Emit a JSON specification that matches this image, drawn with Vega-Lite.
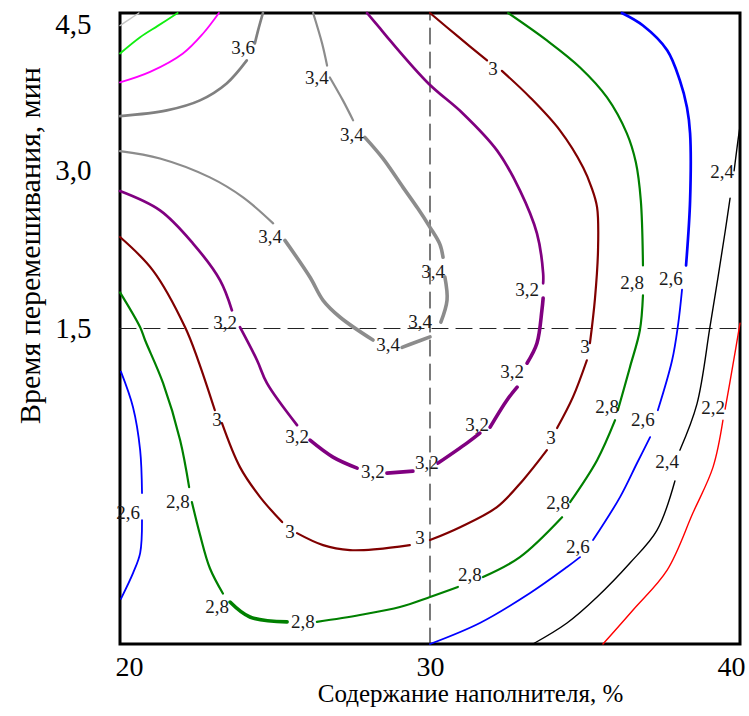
{
  "$schema": "https://vega.github.io/schema/vega-lite/v6.json",
  "width": 620,
  "height": 631,
  "autosize": {"type": "none"},
  "padding": {"left": 120, "top": 13, "right": 9, "bottom": 72},
  "background": "white",
  "config": {
    "view": {"stroke": "black", "strokeWidth": 3},
    "axis": {
      "domain": false,
      "ticks": false,
      "grid": false,
      "labelFont": "Liberation Serif",
      "titleFont": "Liberation Serif",
      "labelColor": "black",
      "titleColor": "black",
      "titleFontWeight": "normal"
    },
    "line": {"interpolate": "catmull-rom", "clip": true, "strokeCap": "round", "strokeJoin": "round"}
  },
  "datasets": {
    "guides": [
      {"g": "v", "x": 30, "y": -1.5}, {"g": "v", "x": 30, "y": 4.5},
      {"g": "h", "x": 20, "y": 1.5}, {"g": "h", "x": 40, "y": 1.5}
    ],
    "curves": [
      {"level": "4.2", "seg": "42a", "x": 20.0, "y": 4.38}, {"level": "4.2", "seg": "42a", "x": 20.3, "y": 4.44}, {"level": "4.2", "seg": "42a", "x": 20.61, "y": 4.5},

      {"level": "4.0", "seg": "40a", "x": 20.0, "y": 4.115}, {"level": "4.0", "seg": "40a", "x": 20.65, "y": 4.27}, {"level": "4.0", "seg": "40a", "x": 21.23, "y": 4.38}, {"level": "4.0", "seg": "40a", "x": 21.86, "y": 4.5},

      {"level": "3.8", "seg": "38a", "x": 20.0, "y": 3.84}, {"level": "3.8", "seg": "38a", "x": 20.97, "y": 3.94}, {"level": "3.8", "seg": "38a", "x": 22.03, "y": 4.115}, {"level": "3.8", "seg": "38a", "x": 22.68, "y": 4.305}, {"level": "3.8", "seg": "38a", "x": 23.19, "y": 4.5},

      {"level": "3.6", "seg": "36a", "x": 20.0, "y": 3.52}, {"level": "3.6", "seg": "36a", "x": 21.51, "y": 3.574}, {"level": "3.6", "seg": "36a", "x": 22.58, "y": 3.669}, {"level": "3.6", "seg": "36a", "x": 23.44, "y": 3.83}, {"level": "3.6", "seg": "36a", "x": 24.09, "y": 4.049},
      {"level": "3.6", "seg": "36b", "x": 24.35, "y": 4.21}, {"level": "3.6", "seg": "36b", "x": 24.45, "y": 4.33}, {"level": "3.6", "seg": "36b", "x": 24.61, "y": 4.5},

      {"level": "3.4", "seg": "34a", "x": 26.23, "y": 4.5}, {"level": "3.4", "seg": "34a", "x": 26.52, "y": 4.21}, {"level": "3.4", "seg": "34a", "x": 26.68, "y": 4.0},
      {"level": "3.4", "seg": "34b", "x": 26.77, "y": 3.887}, {"level": "3.4", "seg": "34b", "x": 27.19, "y": 3.669}, {"level": "3.4", "seg": "34b", "x": 27.52, "y": 3.479},
      {"level": "3.4", "seg": "34c", "x": 27.9, "y": 3.317}, {"level": "3.4", "seg": "34c", "x": 28.48, "y": 3.117}, {"level": "3.4", "seg": "34c", "x": 29.13, "y": 2.842}, {"level": "3.4", "seg": "34c", "x": 29.61, "y": 2.64}, {"level": "3.4", "seg": "34c", "x": 30.0, "y": 2.462}, {"level": "3.4", "seg": "34c", "x": 30.32, "y": 2.3}, {"level": "3.4", "seg": "34c", "x": 30.42, "y": 2.177},
      {"level": "3.4", "seg": "34d", "x": 30.48, "y": 1.99}, {"level": "3.4", "seg": "34d", "x": 30.55, "y": 1.77}, {"level": "3.4", "seg": "34d", "x": 30.35, "y": 1.56},
      {"level": "3.4", "seg": "34e", "x": 30.0, "y": 1.42}, {"level": "3.4", "seg": "34e", "x": 29.45, "y": 1.36}, {"level": "3.4", "seg": "34e", "x": 29.1, "y": 1.32},
      {"level": "3.4", "seg": "34f", "x": 28.16, "y": 1.39}, {"level": "3.4", "seg": "34f", "x": 27.1, "y": 1.607}, {"level": "3.4", "seg": "34f", "x": 26.55, "y": 1.768}, {"level": "3.4", "seg": "34f", "x": 26.13, "y": 1.987}, {"level": "3.4", "seg": "34f", "x": 25.32, "y": 2.338},
      {"level": "3.4", "seg": "34g", "x": 24.94, "y": 2.5}, {"level": "3.4", "seg": "34g", "x": 23.97, "y": 2.747}, {"level": "3.4", "seg": "34g", "x": 22.9, "y": 2.937}, {"level": "3.4", "seg": "34g", "x": 21.29, "y": 3.117}, {"level": "3.4", "seg": "34g", "x": 20.0, "y": 3.187},

      {"level": "3.2", "seg": "32a", "x": 20.0, "y": 2.807}, {"level": "3.2", "seg": "32a", "x": 21.29, "y": 2.623}, {"level": "3.2", "seg": "32a", "x": 22.35, "y": 2.31}, {"level": "3.2", "seg": "32a", "x": 23.23, "y": 1.958}, {"level": "3.2", "seg": "32a", "x": 23.61, "y": 1.673},
      {"level": "3.2", "seg": "32b", "x": 23.87, "y": 1.512}, {"level": "3.2", "seg": "32b", "x": 24.42, "y": 1.198}, {"level": "3.2", "seg": "32b", "x": 24.74, "y": 0.98}, {"level": "3.2", "seg": "32b", "x": 25.71, "y": 0.581},
      {"level": "3.2", "seg": "32c", "x": 26.13, "y": 0.438}, {"level": "3.2", "seg": "32c", "x": 26.87, "y": 0.277}, {"level": "3.2", "seg": "32c", "x": 27.65, "y": 0.172},
      {"level": "3.2", "seg": "32d", "x": 28.61, "y": 0.125}, {"level": "3.2", "seg": "32d", "x": 29.45, "y": 0.144},
      {"level": "3.2", "seg": "32e", "x": 30.26, "y": 0.22}, {"level": "3.2", "seg": "32e", "x": 31.19, "y": 0.41}, {"level": "3.2", "seg": "32e", "x": 31.61, "y": 0.505},
      {"level": "3.2", "seg": "32f", "x": 31.94, "y": 0.562}, {"level": "3.2", "seg": "32f", "x": 32.48, "y": 0.818}, {"level": "3.2", "seg": "32f", "x": 32.81, "y": 0.942},
      {"level": "3.2", "seg": "32g", "x": 33.13, "y": 1.17}, {"level": "3.2", "seg": "32g", "x": 33.45, "y": 1.36}, {"level": "3.2", "seg": "32g", "x": 33.61, "y": 1.673}, {"level": "3.2", "seg": "32g", "x": 33.65, "y": 1.79},
      {"level": "3.2", "seg": "32h", "x": 33.65, "y": 1.93}, {"level": "3.2", "seg": "32h", "x": 33.65, "y": 2.025}, {"level": "3.2", "seg": "32h", "x": 33.45, "y": 2.405}, {"level": "3.2", "seg": "32h", "x": 32.9, "y": 2.814}, {"level": "3.2", "seg": "32h", "x": 32.16, "y": 3.194}, {"level": "3.2", "seg": "32h", "x": 31.06, "y": 3.545}, {"level": "3.2", "seg": "32h", "x": 29.95, "y": 3.83}, {"level": "3.2", "seg": "32h", "x": 28.71, "y": 4.239}, {"level": "3.2", "seg": "32h", "x": 28.39, "y": 4.353}, {"level": "3.2", "seg": "32h", "x": 27.97, "y": 4.5},

      {"level": "3.0", "seg": "30a", "x": 20.0, "y": 2.37}, {"level": "3.0", "seg": "30a", "x": 21.06, "y": 2.053}, {"level": "3.0", "seg": "30a", "x": 22.1, "y": 1.512}, {"level": "3.0", "seg": "30a", "x": 22.52, "y": 1.198}, {"level": "3.0", "seg": "30a", "x": 23.06, "y": 0.723},
      {"level": "3.0", "seg": "30b", "x": 23.29, "y": 0.6}, {"level": "3.0", "seg": "30b", "x": 23.87, "y": 0.182}, {"level": "3.0", "seg": "30b", "x": 24.52, "y": -0.103}, {"level": "3.0", "seg": "30b", "x": 25.23, "y": -0.341},
      {"level": "3.0", "seg": "30c", "x": 25.71, "y": -0.446}, {"level": "3.0", "seg": "30c", "x": 26.55, "y": -0.56}, {"level": "3.0", "seg": "30c", "x": 27.42, "y": -0.607}, {"level": "3.0", "seg": "30c", "x": 28.29, "y": -0.598}, {"level": "3.0", "seg": "30c", "x": 29.35, "y": -0.56},
      {"level": "3.0", "seg": "30d", "x": 30.0, "y": -0.512}, {"level": "3.0", "seg": "30d", "x": 30.97, "y": -0.389}, {"level": "3.0", "seg": "30d", "x": 32.16, "y": -0.198}, {"level": "3.0", "seg": "30d", "x": 33.0, "y": 0.058}, {"level": "3.0", "seg": "30d", "x": 33.77, "y": 0.343},
      {"level": "3.0", "seg": "30e", "x": 34.1, "y": 0.553}, {"level": "3.0", "seg": "30e", "x": 34.61, "y": 0.847}, {"level": "3.0", "seg": "30e", "x": 35.06, "y": 1.198},
      {"level": "3.0", "seg": "30f", "x": 35.16, "y": 1.36}, {"level": "3.0", "seg": "30f", "x": 35.32, "y": 1.78}, {"level": "3.0", "seg": "30f", "x": 35.42, "y": 2.243}, {"level": "3.0", "seg": "30f", "x": 35.39, "y": 2.652}, {"level": "3.0", "seg": "30f", "x": 35.2, "y": 2.85}, {"level": "3.0", "seg": "30f", "x": 34.94, "y": 3.032}, {"level": "3.0", "seg": "30f", "x": 34.19, "y": 3.384}, {"level": "3.0", "seg": "30f", "x": 33.23, "y": 3.697}, {"level": "3.0", "seg": "30f", "x": 32.32, "y": 3.95},
      {"level": "3.0", "seg": "30g", "x": 31.84, "y": 4.049}, {"level": "3.0", "seg": "30g", "x": 30.9, "y": 4.277}, {"level": "3.0", "seg": "30g", "x": 30.0, "y": 4.5},

      {"level": "2.8", "seg": "28a", "x": 20.0, "y": 1.844}, {"level": "2.8", "seg": "28a", "x": 20.65, "y": 1.512}, {"level": "2.8", "seg": "28a", "x": 20.81, "y": 1.388}, {"level": "2.8", "seg": "28a", "x": 21.39, "y": 0.98}, {"level": "2.8", "seg": "28a", "x": 21.94, "y": 0.438}, {"level": "2.8", "seg": "28a", "x": 22.23, "y": -0.008},
      {"level": "2.8", "seg": "28b", "x": 22.32, "y": -0.151}, {"level": "2.8", "seg": "28b", "x": 22.58, "y": -0.46}, {"level": "2.8", "seg": "28b", "x": 22.9, "y": -0.78}, {"level": "2.8", "seg": "28b", "x": 23.32, "y": -1.02},
      {"level": "2.8", "seg": "28c", "x": 23.55, "y": -1.101}, {"level": "2.8", "seg": "28c", "x": 24.19, "y": -1.243}, {"level": "2.8", "seg": "28c", "x": 25.39, "y": -1.29},
      {"level": "2.8", "seg": "28d", "x": 26.35, "y": -1.29}, {"level": "2.8", "seg": "28d", "x": 27.74, "y": -1.224}, {"level": "2.8", "seg": "28d", "x": 29.03, "y": -1.148}, {"level": "2.8", "seg": "28d", "x": 30.0, "y": -1.053}, {"level": "2.8", "seg": "28d", "x": 30.9, "y": -0.958},
      {"level": "2.8", "seg": "28e", "x": 31.71, "y": -0.863}, {"level": "2.8", "seg": "28e", "x": 32.9, "y": -0.674}, {"level": "2.8", "seg": "28e", "x": 34.26, "y": -0.295},
      {"level": "2.8", "seg": "28f", "x": 34.52, "y": -0.151}, {"level": "2.8", "seg": "28f", "x": 35.39, "y": 0.248}, {"level": "2.8", "seg": "28f", "x": 35.97, "y": 0.628},
      {"level": "2.8", "seg": "28g", "x": 36.06, "y": 0.723}, {"level": "2.8", "seg": "28g", "x": 36.45, "y": 1.132}, {"level": "2.8", "seg": "28g", "x": 36.77, "y": 1.483}, {"level": "2.8", "seg": "28g", "x": 36.87, "y": 1.816},
      {"level": "2.8", "seg": "28h", "x": 36.87, "y": 2.1}, {"level": "2.8", "seg": "28h", "x": 36.8, "y": 2.718}, {"level": "2.8", "seg": "28h", "x": 36.64, "y": 3.08}, {"level": "2.8", "seg": "28h", "x": 36.35, "y": 3.355}, {"level": "2.8", "seg": "28h", "x": 35.71, "y": 3.697}, {"level": "2.8", "seg": "28h", "x": 34.84, "y": 3.982}, {"level": "2.8", "seg": "28h", "x": 33.77, "y": 4.239}, {"level": "2.8", "seg": "28h", "x": 32.52, "y": 4.5},

      {"level": "2.6", "seg": "26a", "x": 20.03, "y": 1.09}, {"level": "2.6", "seg": "26a", "x": 20.42, "y": 0.752}, {"level": "2.6", "seg": "26a", "x": 20.65, "y": 0.343}, {"level": "2.6", "seg": "26a", "x": 20.71, "y": -0.065},
      {"level": "2.6", "seg": "26b", "x": 20.71, "y": -0.322}, {"level": "2.6", "seg": "26b", "x": 20.65, "y": -0.636}, {"level": "2.6", "seg": "26b", "x": 20.42, "y": -0.826}, {"level": "2.6", "seg": "26b", "x": 20.03, "y": -1.07},
      {"level": "2.6", "seg": "26c", "x": 30.0, "y": -1.5}, {"level": "2.6", "seg": "26c", "x": 31.61, "y": -1.3}, {"level": "2.6", "seg": "26c", "x": 33.23, "y": -1.015}, {"level": "2.6", "seg": "26c", "x": 34.42, "y": -0.768}, {"level": "2.6", "seg": "26c", "x": 34.84, "y": -0.674},
      {"level": "2.6", "seg": "26d", "x": 35.26, "y": -0.512}, {"level": "2.6", "seg": "26d", "x": 36.13, "y": -0.103}, {"level": "2.6", "seg": "26d", "x": 36.68, "y": 0.221}, {"level": "2.6", "seg": "26d", "x": 37.1, "y": 0.467},
      {"level": "2.6", "seg": "26e", "x": 37.35, "y": 0.723}, {"level": "2.6", "seg": "26e", "x": 37.81, "y": 1.198}, {"level": "2.6", "seg": "26e", "x": 38.0, "y": 1.53}, {"level": "2.6", "seg": "26e", "x": 38.13, "y": 1.87},
      {"level": "2.6", "seg": "26f", "x": 38.26, "y": 2.101}, {"level": "2.6", "seg": "26f", "x": 38.39, "y": 2.718}, {"level": "2.6", "seg": "26f", "x": 38.39, "y": 3.355}, {"level": "2.6", "seg": "26f", "x": 38.29, "y": 3.602}, {"level": "2.6", "seg": "26f", "x": 38.06, "y": 3.859}, {"level": "2.6", "seg": "26f", "x": 37.65, "y": 4.146}, {"level": "2.6", "seg": "26f", "x": 36.87, "y": 4.381}, {"level": "2.6", "seg": "26f", "x": 36.19, "y": 4.5},

      {"level": "2.4", "seg": "24a", "x": 33.32, "y": -1.5}, {"level": "2.4", "seg": "24a", "x": 34.42, "y": -1.3}, {"level": "2.4", "seg": "24a", "x": 35.39, "y": -1.053}, {"level": "2.4", "seg": "24a", "x": 36.45, "y": -0.73}, {"level": "2.4", "seg": "24a", "x": 37.32, "y": -0.42}, {"level": "2.4", "seg": "24a", "x": 37.9, "y": 0.05},
      {"level": "2.4", "seg": "24b", "x": 38.06, "y": 0.343}, {"level": "2.4", "seg": "24b", "x": 38.61, "y": 0.781}, {"level": "2.4", "seg": "24b", "x": 39.03, "y": 1.512}, {"level": "2.4", "seg": "24b", "x": 39.29, "y": 1.987}, {"level": "2.4", "seg": "24b", "x": 39.52, "y": 2.42}, {"level": "2.4", "seg": "24b", "x": 39.68, "y": 2.74},
      {"level": "2.4", "seg": "24c", "x": 39.81, "y": 3.0}, {"level": "2.4", "seg": "24c", "x": 39.94, "y": 3.3}, {"level": "2.4", "seg": "24c", "x": 40.0, "y": 3.42},

      {"level": "2.2", "seg": "22a", "x": 35.58, "y": -1.5}, {"level": "2.2", "seg": "22a", "x": 36.55, "y": -1.176}, {"level": "2.2", "seg": "22a", "x": 37.65, "y": -0.797}, {"level": "2.2", "seg": "22a", "x": 38.48, "y": -0.255}, {"level": "2.2", "seg": "22a", "x": 39.13, "y": 0.182}, {"level": "2.2", "seg": "22a", "x": 39.45, "y": 0.628},
      {"level": "2.2", "seg": "22b", "x": 39.52, "y": 0.733}, {"level": "2.2", "seg": "22b", "x": 39.77, "y": 1.151}, {"level": "2.2", "seg": "22b", "x": 40.0, "y": 1.55}
    ],
    "labels": [
      {"t": "3,6", "x": 23.97, "y": 4.163},
      {"t": "3,4", "x": 26.35, "y": 3.878}, {"t": "3,4", "x": 27.48, "y": 3.336}, {"t": "3,4", "x": 30.1, "y": 2.034},
      {"t": "3,4", "x": 29.68, "y": 1.559}, {"t": "3,4", "x": 28.65, "y": 1.341}, {"t": "3,4", "x": 24.84, "y": 2.367},
      {"t": "3,2", "x": 23.39, "y": 1.55}, {"t": "3,2", "x": 25.71, "y": 0.467}, {"t": "3,2", "x": 28.16, "y": 0.134},
      {"t": "3,2", "x": 29.9, "y": 0.22}, {"t": "3,2", "x": 31.52, "y": 0.581}, {"t": "3,2", "x": 32.65, "y": 1.084}, {"t": "3,2", "x": 33.13, "y": 1.863},
      {"t": "3", "x": 23.13, "y": 0.628}, {"t": "3", "x": 25.48, "y": -0.436}, {"t": "3", "x": 29.68, "y": -0.493},
      {"t": "3", "x": 33.9, "y": 0.457}, {"t": "3", "x": 35.0, "y": 1.322}, {"t": "3", "x": 32.03, "y": 3.97},
      {"t": "2,8", "x": 21.87, "y": -0.151}, {"t": "2,8", "x": 23.13, "y": -1.148}, {"t": "2,8", "x": 25.9, "y": -1.29},
      {"t": "2,8", "x": 31.29, "y": -0.844}, {"t": "2,8", "x": 34.13, "y": -0.16}, {"t": "2,8", "x": 35.71, "y": 0.752}, {"t": "2,8", "x": 36.52, "y": 1.93},
      {"t": "2,6", "x": 20.26, "y": -0.255}, {"t": "2,6", "x": 34.77, "y": -0.579}, {"t": "2,6", "x": 36.87, "y": 0.628}, {"t": "2,6", "x": 37.77, "y": 1.968},
      {"t": "2,4", "x": 37.65, "y": 0.229}, {"t": "2,4", "x": 39.42, "y": 2.985},
      {"t": "2,2", "x": 39.13, "y": 0.74}
    ]
  },
  "encoding": {
    "x": {
      "field": "x",
      "type": "quantitative",
      "scale": {"domain": [20, 40], "nice": false, "zero": false},
      "axis": {
        "values": [20, 30, 40],
        "labelFontSize": 28,
        "labelPadding": 9,
        "labelFlush": true,
        "labelFlushOffset": 5,
        "title": "Содержание наполнителя, %",
        "titleFontSize": 25,
        "titleX": 350,
        "titleY": 49,
        "titleAlign": "center",
        "titleBaseline": "middle"
      }
    },
    "y": {
      "field": "y",
      "type": "quantitative",
      "scale": {"domain": [-1.5, 4.5], "nice": false, "zero": false},
      "axis": {
        "values": [1.5, 3, 4.5],
        "labelExpr": "replace(format(datum.value, '.1f'), '.', ',')",
        "labelFontSize": 29,
        "labelPadding": 29,
        "labelFlush": true,
        "labelFlushOffset": 3,
        "title": "Время перемешивания, мин",
        "titleFontSize": 30,
        "titleX": -90,
        "titleY": 232,
        "titleAlign": "center",
        "titleBaseline": "middle"
      }
    },
    "color": {
      "field": "level",
      "type": "nominal",
      "legend": null,
      "scale": {
        "domain": ["4.2", "4.0", "3.8", "3.6", "3.4", "3.2", "3.0", "2.8", "2.6", "2.4", "2.2"],
        "range": ["#c4c4c4", "#11ee11", "#ff00ff", "#808080", "#8c8c8c", "#800080", "#800000", "#008000", "#0000ff", "#000000", "#ff0000"]
      }
    }
  },
  "layer": [
    {
      "data": {"name": "guides"},
      "mark": {"type": "line", "strokeWidth": 1.2, "strokeDash": [16, 8], "interpolate": "linear"},
      "encoding": {"detail": {"field": "g"}, "order": {"value": null}, "color": {"value": "#222222"}}
    },
    {
      "data": {"name": "curves"},
      "transform": [{"filter": {"field": "seg", "oneOf": ["42a", "24a", "24b", "24c", "22a", "22b"]}}],
      "mark": {"type": "line", "strokeWidth": 1.4},
      "encoding": {"detail": {"field": "seg"}, "order": {"value": null}}
    },
    {
      "data": {"name": "curves"},
      "transform": [{"filter": {"field": "seg", "oneOf": ["40a", "38a", "26a", "26b", "26c", "26d", "26e"]}}],
      "mark": {"type": "line", "strokeWidth": 1.8},
      "encoding": {"detail": {"field": "seg"}, "order": {"value": null}}
    },
    {
      "data": {"name": "curves"},
      "transform": [{"filter": {"field": "seg", "oneOf": ["30a", "30b", "30c", "30d", "30e", "30f", "30g", "28a", "28b", "28d", "28e", "28f", "28g", "28h", "34a", "34b", "34g"]}}],
      "mark": {"type": "line", "strokeWidth": 2.2},
      "encoding": {"detail": {"field": "seg"}, "order": {"value": null}}
    },
    {
      "data": {"name": "curves"},
      "transform": [{"filter": {"field": "seg", "oneOf": ["36a", "36b", "32a", "32b", "32h", "26f"]}}],
      "mark": {"type": "line", "strokeWidth": 2.7},
      "encoding": {"detail": {"field": "seg"}, "order": {"value": null}}
    },
    {
      "data": {"name": "curves"},
      "transform": [{"filter": {"field": "seg", "oneOf": ["32c", "32d", "32e", "32f", "32g", "28c", "34c", "34d", "34e", "34f"]}}],
      "mark": {"type": "line", "strokeWidth": 3.6},
      "encoding": {"detail": {"field": "seg"}, "order": {"value": null}}
    },
    {
      "data": {"name": "labels"},
      "mark": {"type": "text", "font": "Liberation Serif", "fontSize": 19, "align": "center", "baseline": "middle"},
      "encoding": {"text": {"field": "t"}, "color": {"value": "#1a1a1a"}}
    }
  ]
}
